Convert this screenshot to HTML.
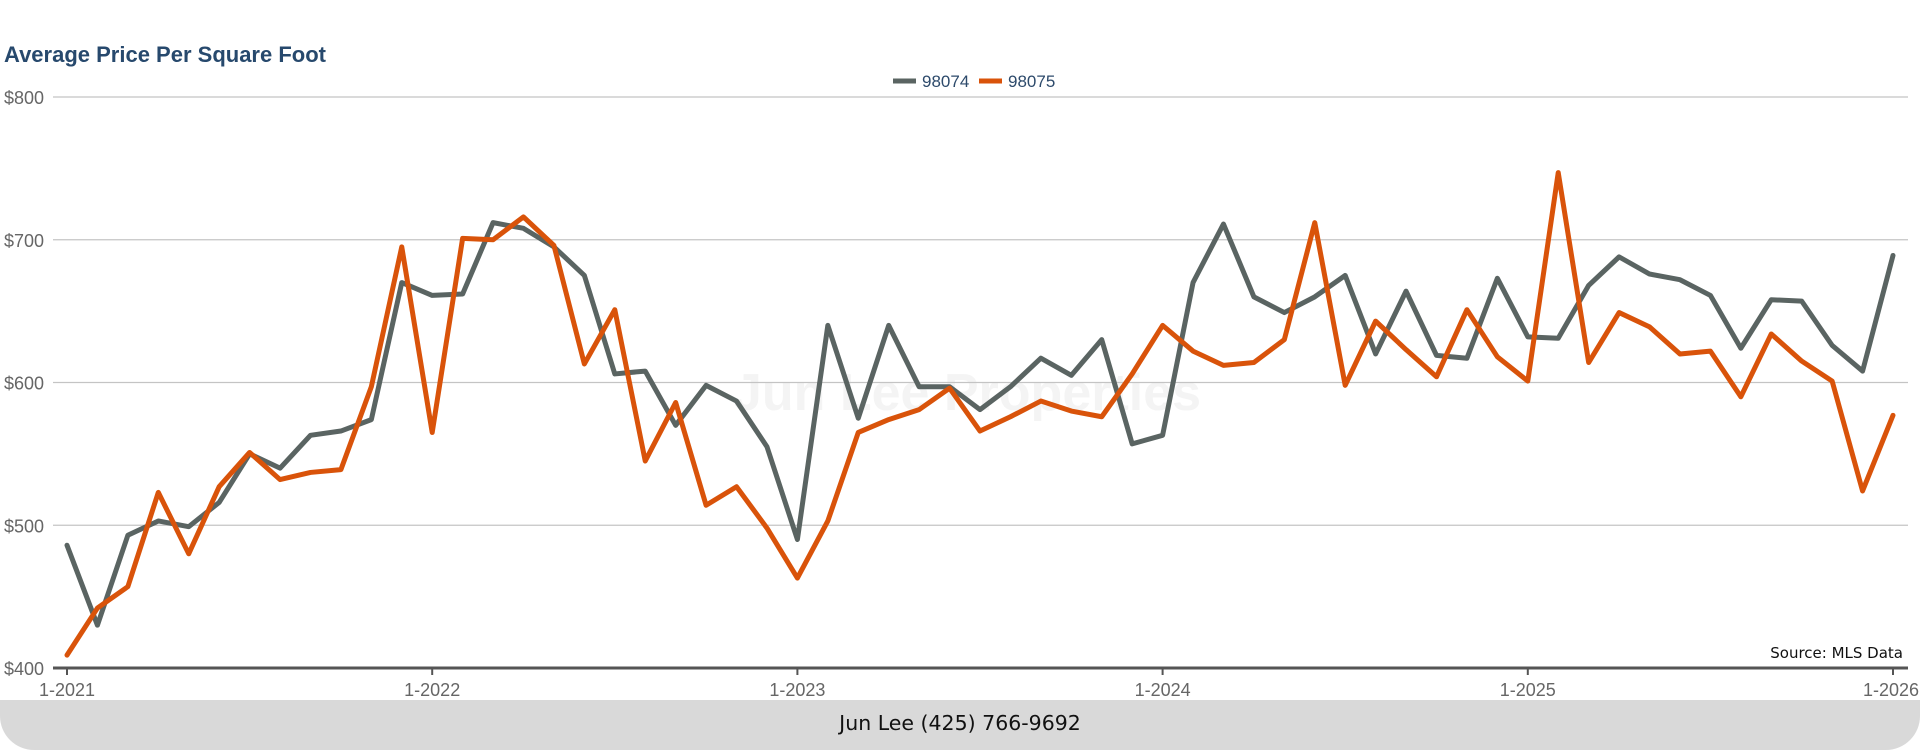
<!DOCTYPE html>
<html><head><meta charset="utf-8"><style>
html,body{margin:0;padding:0;background:#fff;}
body{width:1920px;height:750px;overflow:hidden;position:relative;font-family:"Liberation Sans",sans-serif;}
#footer{position:absolute;left:0;top:700px;width:1920px;height:50px;background:#d9d9d9;border-radius:0 0 34px 34px;}
#footer span{position:absolute;left:0;right:0;top:11px;text-align:center;font-size:20.5px;color:#111;font-family:"DejaVu Sans","Liberation Sans",sans-serif;}
</style></head><body>
<svg id="chart" width="1920" height="750" style="position:absolute;left:0;top:0">
<text x="4" y="62" font-size="22" font-weight="bold" fill="#27496d">Average Price Per Square Foot</text>
<text x="967" y="410" font-size="52" font-weight="bold" fill="#f4f4f4" text-anchor="middle">Jun Lee Properties</text>
<g id="grid"></g><g id="xaxis"></g><g id="lines"></g>
<g>
<line x1="893" y1="81" x2="916" y2="81" stroke="#5a6462" stroke-width="5"/>
<text x="922" y="87" font-size="17" fill="#2d4a6b">98074</text>
<line x1="979" y1="81" x2="1002" y2="81" stroke="#d9530a" stroke-width="5"/>
<text x="1008" y="87" font-size="17" fill="#2d4a6b">98075</text>
</g>
<text x="1903" y="658" font-size="15" fill="#111" text-anchor="end" font-family="DejaVu Sans, sans-serif">Source: MLS Data</text>
</svg>
<div id="footer"><span>Jun Lee (425) 766-9692</span></div>
<script>
const yTicks=[400,500,600,700,800];
const yTickLabels=["$400","$500","$600","$700","$800"];
const xTickLabels=["1-2021","1-2022","1-2023","1-2024","1-2025","1-2026"];
const xTickIndex=[0,12,24,36,48,60];
const series98074=[486,430,493,503,499,516,550,540,563,566,574,670,661,662,712,708,695,675,606,608,570,598,587,555,490,640,575,640,597,597,581,597,617,605,630,557,563,670,711,660,649,660,675,620,664,619,617,673,632,631,668,688,676,672,661,624,658,657,626,608,689];
const series98075=[409,442,457,523,480,527,551,532,537,539,597,695,565,701,700,716,696,613,651,545,586,514,527,498,463,503,565,574,581,596,566,576,587,580,576,606,640,622,612,614,630,712,598,643,623,604,651,618,601,747,614,649,639,620,622,590,634,615,601,524,577];
const NS="http://www.w3.org/2000/svg";
const X0=67,X1=1893,Y400=668,Y800=97;
function xs(i){return X0+(X1-X0)*i/60;}
function ys(v){return Y400+(Y800-Y400)*(v-400)/400;}
function mk(tag,attrs,parent){const e=document.createElementNS(NS,tag);for(const k in attrs)e.setAttribute(k,attrs[k]);parent.appendChild(e);return e;}
const grid=document.getElementById('grid'),xa=document.getElementById('xaxis'),ln=document.getElementById('lines');
yTicks.forEach((v,i)=>{
 if(i>0){const g=mk('line',{x1:53,x2:1908,y1:ys(v),y2:ys(v),stroke:'#c4c4c4','stroke-width':1.3},grid);
 
 }
 const t=mk('text',{x:4,y:ys(v)+7,'font-size':18,fill:'#666'},grid);
 t.textContent=yTickLabels[i];
 
 
});
const ax=mk('line',{x1:53,x2:1908,y1:Y400,y2:Y400,stroke:'#555','stroke-width':3},xa);


xTickLabels.forEach((l,i)=>{
 const x=xs(xTickIndex[i]);
 const tk=mk('line',{x1:x,x2:x,y1:Y400,y2:Y400+7,stroke:'#555','stroke-width':2},xa);
 
 
 const t=mk('text',{x:x,y:696,'font-size':18,fill:'#666','text-anchor':i==5?'end':'middle'},xa);
 if(i==5)t.setAttribute('x',x+26);
 t.textContent=l;
 
 
});
function draw(data,color,name){
 const p=mk('polyline',{points:data.map((v,i)=>xs(i)+','+ys(v)).join(' '),fill:'none',stroke:color,'stroke-width':5,'stroke-linejoin':'round','stroke-linecap':'round'},ln);
 
 
}
draw(series98074,'#5a6462','line-98074');
draw(series98075,'#d9530a','line-98075');
</script>
</body></html>
